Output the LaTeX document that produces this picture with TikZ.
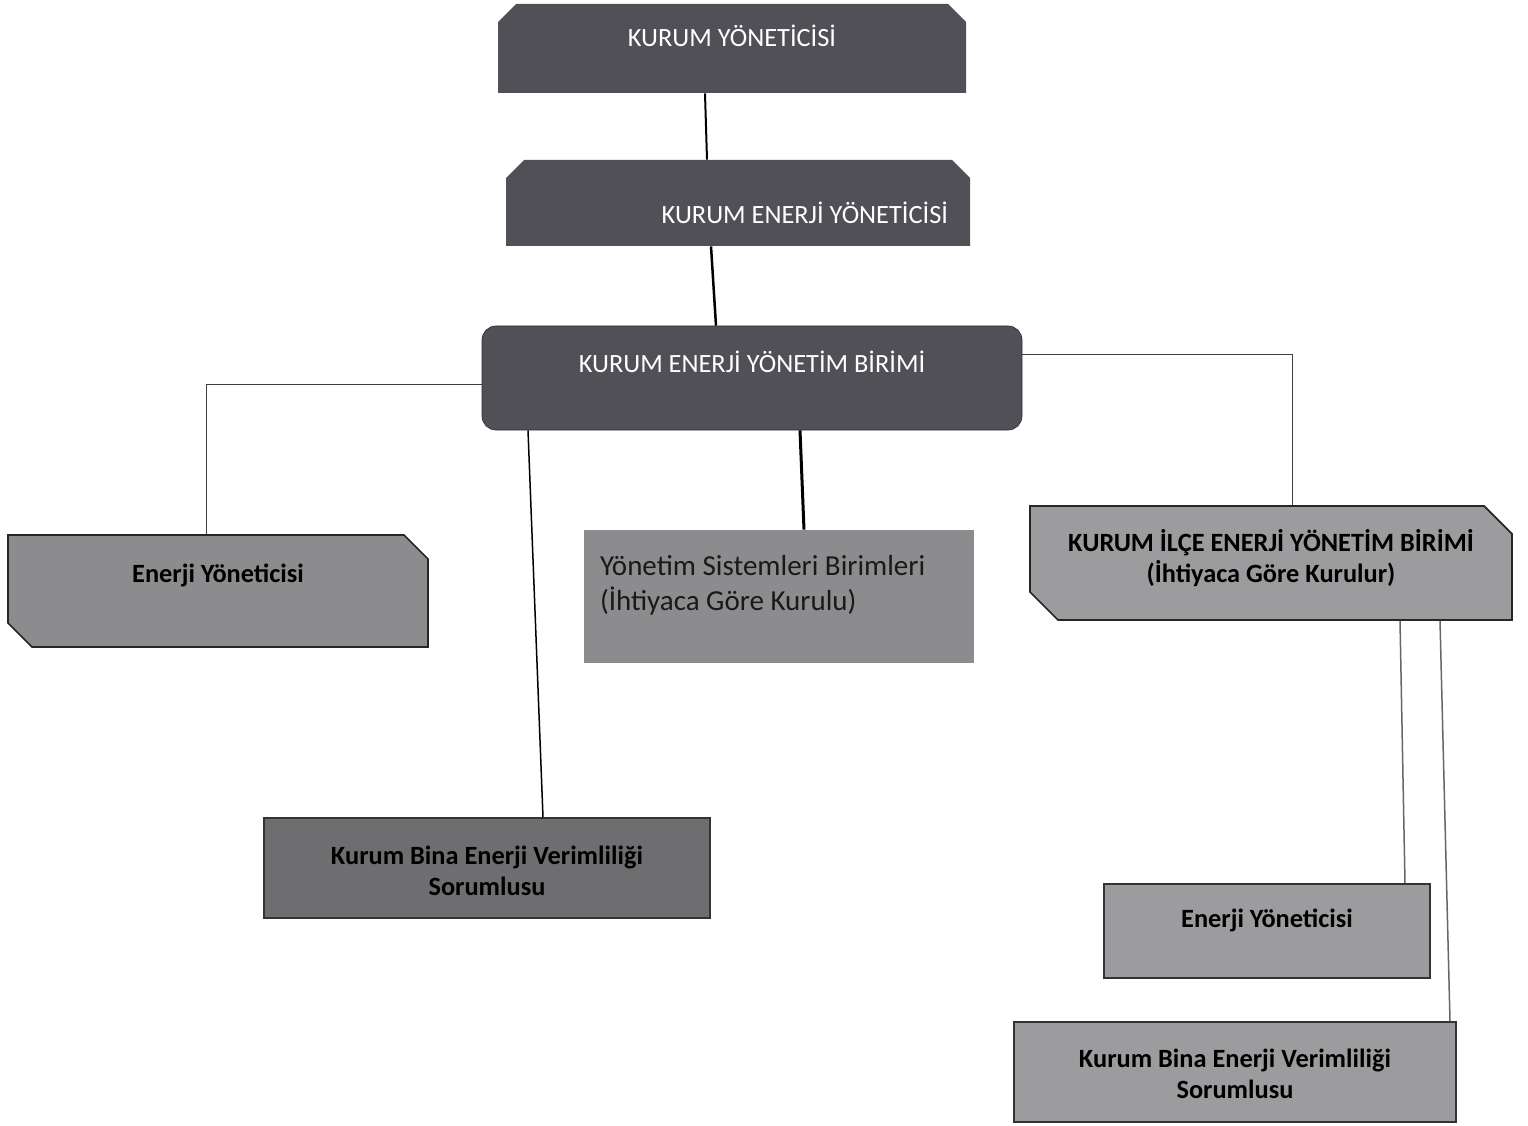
\documentclass[tikz,border=0pt]{standalone}
\usepackage{fontspec}
\setmainfont{Carlito}
\usetikzlibrary{shapes,arrows}
\definecolor{boxdark}{RGB}{80,80,86}
\definecolor{boxmid}{RGB}{110,110,112}
\definecolor{boxgrey}{RGB}{140,140,142}
\definecolor{boxlight}{RGB}{156,156,158}
\tikzstyle{line} = [draw, line width=0.3mm]
\tikzstyle{thinline} = [draw=black!75, line width=0.2mm]
\tikzstyle{darkbox} = [fill=boxdark, text=white, inner sep=0pt, font=\fontsize{15}{18}\selectfont]
\tikzstyle{topbox} = [darkbox, chamfered rectangle, chamfered rectangle corners={north west,north east}, chamfered rectangle sep=1.8mm]
\tikzstyle{snipbox} = [chamfered rectangle, chamfered rectangle corners={north east,south west}, draw=black!85, line width=0.35mm, inner sep=0pt, font=\bfseries\fontsize{15}{18}\selectfont]
\tikzstyle{greybox} = [rectangle, draw=black!80, line width=0.3mm, fill=boxlight, inner sep=0pt, font=\bfseries\fontsize{15}{18}\selectfont]

\begin{document}
\begin{tikzpicture}
        \useasboundingbox (0,0) rectangle (30.56,-22.52);

        \node (KY) [topbox, xshift=14.64cm, yshift=-0.97cm, minimum width=9.36cm, minimum height=1.78cm, text height=6.8mm, text depth=7.4mm] {KURUM YÖNETİCİSİ};
        \node (KEY) [topbox, xshift=14.76cm, yshift=-4.06cm, minimum width=9.28cm, minimum height=1.72cm, text width=8.4cm, align=flush right, text height=11mm, text depth=2.6mm] {KURUM ENERJİ YÖNETİCİSİ};

        \draw[line, line width=0.4mm] ([xshift=-5.4mm]KY.south) -- ([xshift=-6.2mm]KEY.north);

        \node (KEYB) [darkbox, rectangle, rounded corners=2.8mm, draw=black!80, minimum width=10.8cm, text height=9.4mm, text depth=11.4mm] at (15.04,-7.56) {KURUM ENERJİ YÖNETİM BİRİMİ};

        \draw[line, line width=0.5mm] ([xshift=-5.4mm]KEY.south) -- ([xshift=-7.2mm]KEYB.north);

        \node (EY) [snipbox, fill=boxgrey, chamfered rectangle sep=2.4mm, xshift=4.36cm, yshift=-11.82cm, minimum width=8.4cm, minimum height=2.24cm, text height=7mm, text depth=10.6mm] {Enerji Yöneticisi};
        \node (YS) [rectangle, fill=boxgrey, text=black!90, inner sep=0pt, font=\fontsize{16.5}{20}\selectfont, xshift=15.58cm, yshift=-11.93cm, minimum width=7.8cm, text width=7.16cm, align=flush left, text height=9mm, text depth=17.6mm] {Yönetim Sistemleri Birimleri \\ (İhtiyaca Göre Kurulu)};
        \node (KIB) [snipbox, fill=boxlight, chamfered rectangle sep=2.8mm, xshift=25.42cm, yshift=-11.26cm, minimum width=9.64cm, minimum height=2.28cm, text width=8.5cm, align=flush center, text height=6.2mm, text depth=11mm] {KURUM İLÇE ENERJİ YÖNETİM BİRİMİ \\ (İhtiyaca Göre Kurulur)};

        \draw[thinline] ([yshift=-1.2mm]KEYB.west) -| ([xshift=-2.4mm]EY.north);
        \draw[line, line width=0.6mm] ([xshift=9.6mm]KEYB.south) -- ([xshift=5mm]YS.north);
        \draw[thinline] ([yshift=4.6mm]KEYB.east) -| ([xshift=4.2mm]KIB.north);

        \node (KBV) [greybox, fill=boxmid, xshift=9.74cm, yshift=-17.36cm, minimum width=8.92cm, text width=8cm, align=flush center, text height=9.2mm, text depth=10.8mm] {Kurum Bina Enerji Verimliliği \\ Sorumlusu};

        \draw[line] ([xshift=-44.8mm]KEYB.south) -- ([xshift=11.2mm]KBV.north);

        \node (EYi) [greybox, xshift=25.34cm, yshift=-18.62cm, minimum width=6.52cm, text height=8.6mm, text depth=10.2mm] {Enerji Yöneticisi};
        \node (KBVi) [greybox, xshift=24.7cm, yshift=-21.44cm, minimum width=8.84cm, text width=8cm, align=flush center, text height=9mm, text depth=11mm] {Kurum Bina Enerji Verimliliği \\ Sorumlusu};

        \draw[thinline, draw=black!60, line width=0.3mm] ([xshift=25.8mm]KIB.south) -- ([xshift=27.6mm]EYi.north);
        \draw[thinline, draw=black!60, line width=0.3mm] ([xshift=33.8mm]KIB.south) -- ([xshift=43mm]KBVi.north);

    \end{tikzpicture}
\end{document}
